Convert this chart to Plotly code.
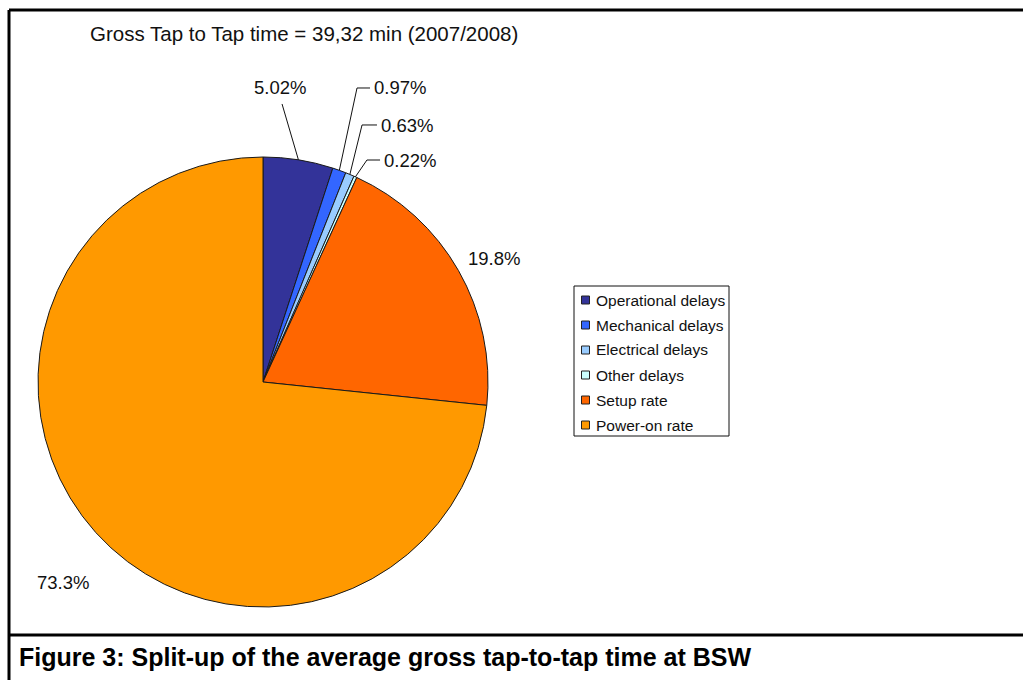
import math
import plotly.graph_objects as go

# Split-up of gross tap-to-tap time (shares in %)
categories = ["Operational delays", "Mechanical delays", "Electrical delays",
              "Other delays", "Setup rate", "Power-on rate"]
shares = [5.02, 0.97, 0.63, 0.22, 19.8, 73.3]
share_labels = ["5.02%", "0.97%", "0.63%", "0.22%", "19.8%", "73.3%"]
colors = ["#333399", "#3366FF", "#99CCFF", "#CCFFFF", "#FF6600", "#FF9900"]

title_text = "Gross Tap to Tap time = 39,32 min (2007/2008)"
caption_text = "Figure 3: Split-up of the average gross tap-to-tap time at BSW"

W, H = 1023, 680
CX, CY, R = 263, 382, 225  # pie centre and radius in pixels


def px(x):
    return x / W


def py(y):
    return 1 - y / H


fig = go.Figure(go.Pie(
    labels=categories,
    values=shares,
    sort=False,
    direction="clockwise",
    rotation=0,
    textinfo="none",
    hoverinfo="label+percent",
    marker=dict(colors=colors, line=dict(color="#1a1a1a", width=1)),
    domain=dict(x=[px(CX - R), px(CX + R)], y=[py(CY + R), py(CY - R)]),
    showlegend=False,
))

# angle (from 12 o'clock, clockwise) of the middle of each slice
total = sum(shares)
mids = []
acc = 0.0
for v in shares:
    mids.append((acc + v / 2) / total * 2 * math.pi)
    acc += v


def arc_point(i):
    a = mids[i]
    return CX + R * math.sin(a), CY - R * math.cos(a)


# label placement: (text anchor x, y, xanchor, leader path after the arc point)
label_layout = [
    dict(x=280, y=88, xanchor="center", path=[(282, 104)]),
    dict(x=372, y=88, xanchor="left", path=[(357, 88), (370, 88)]),
    dict(x=379, y=125, xanchor="left", path=[(362, 125), (377, 125)]),
    dict(x=382, y=160, xanchor="left", path=[(367, 160), (380, 160)]),
    dict(x=494, y=258, xanchor="center", path=[]),
    dict(x=63, y=582, xanchor="center", path=[]),
]

shapes = []
annotations = []
label_font = dict(family="Liberation Sans, Arial, sans-serif", size=18.5, color="#111111")

for i, lay in enumerate(label_layout):
    if lay["path"]:
        pts = [arc_point(i)] + lay["path"]
        d = "M {:.4f},{:.4f}".format(px(pts[0][0]), py(pts[0][1]))
        for (x, y) in pts[1:]:
            d += " L {:.4f},{:.4f}".format(px(x), py(y))
        shapes.append(dict(type="path", xref="paper", yref="paper", path=d,
                           line=dict(color="#111111", width=1)))
    annotations.append(dict(x=px(lay["x"]), y=py(lay["y"]), xref="paper", yref="paper",
                            text=share_labels[i], showarrow=False, xanchor=lay["xanchor"],
                            yanchor="middle", font=label_font))

# hand-drawn legend box
LX0, LY0, LX1, LY1 = 574, 286, 729, 436
shapes.append(dict(type="rect", xref="paper", yref="paper",
                   x0=px(LX0), x1=px(LX1), y0=py(LY1), y1=py(LY0),
                   line=dict(color="#111111", width=1), fillcolor="white"))
for i, (name, col) in enumerate(zip(categories, colors)):
    yc = 300 + 25 * i
    shapes.append(dict(type="rect", xref="paper", yref="paper",
                       x0=px(581.5), x1=px(589.5), y0=py(yc + 4), y1=py(yc - 4),
                       line=dict(color="#222222", width=1), fillcolor=col))
    annotations.append(dict(x=px(594), y=py(yc), xref="paper", yref="paper",
                            text=name, showarrow=False, xanchor="left", yanchor="middle",
                            font=dict(family="Liberation Sans, Arial, sans-serif",
                                      size=15.5, color="#111111")))

# chart title
annotations.append(dict(x=px(88), y=py(33), xref="paper", yref="paper", text=title_text,
                        showarrow=False, xanchor="left", yanchor="middle",
                        font=dict(family="Liberation Sans, Arial, sans-serif",
                                  size=20.5, color="#111111")))

# figure caption
annotations.append(dict(x=px(17), y=py(657), xref="paper", yref="paper",
                        text="<b>" + caption_text + "</b>",
                        showarrow=False, xanchor="left", yanchor="middle",
                        font=dict(family="Liberation Sans, Arial, sans-serif",
                                  size=25, color="#000000")))

# frame lines
frame = dict(color="#000000", width=3)
shapes += [
    dict(type="line", xref="paper", yref="paper", x0=px(9), x1=1.0, y0=py(10), y1=py(10), line=frame),
    dict(type="line", xref="paper", yref="paper", x0=px(9), x1=px(9), y0=py(10), y1=0.0, line=frame),
    dict(type="line", xref="paper", yref="paper", x0=px(9), x1=1.0, y0=py(635), y1=py(635), line=frame),
]

fig.update_layout(
    width=W, height=H,
    margin=dict(l=0, r=0, t=0, b=0),
    paper_bgcolor="white",
    plot_bgcolor="white",
    shapes=shapes,
    annotations=annotations,
)

fig.write_html("out.html", include_plotlyjs=True, config={"displayModeBar": False})
